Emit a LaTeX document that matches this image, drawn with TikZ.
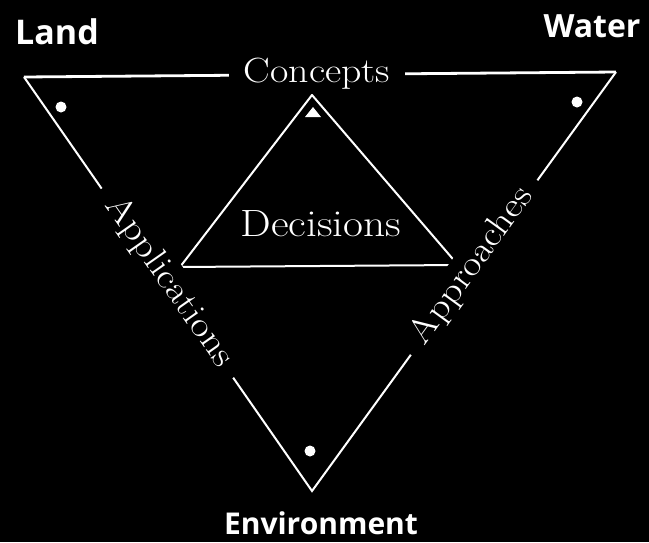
\documentclass[tikz,border=0pt]{standalone}
\usepackage{fontspec}
\newfontfamily\cornerfont{Open Sans}
\newfontfamily\sidefont{Latin Modern Roman}[FakeStretch=1.14]
\usetikzlibrary{positioning}

\begin{document}
\begin{tikzpicture}[x=1pt, y=-1pt, white, line width=2pt,
    corner/.style={font=\cornerfont\bfseries\fontsize{32}{36}\selectfont},
    side/.style={fill=black, inner xsep=15pt, inner ysep=4pt,
      font=\sidefont\fontsize{35}{40}\selectfont},
    spot/.style={circle, fill=white, inner sep=0pt, minimum size=11pt}]

% Fondo
\fill[black] (0,0) rectangle (649,542);

% Triangulo exterior
\coordinate (tl) at (24,77);
\coordinate (tr) at (616,72);
\coordinate (bt) at (312,491);
\draw[line width=2.8pt] (tl) -- (tr);
\draw[line join=miter] (tr) -- (bt) -- (tl);

% Triangulo interior
\coordinate (apex) at (312,95);
\coordinate (bl) at (180,267);
\coordinate (br) at (458,265);
\draw (apex) -- (br) -- (bl) -- cycle;
\fill (313,107) -- (305,117) -- (321,117) -- cycle;

% Puntos
\node[spot] (sl) at (61,107) {};
\node[spot] (sr) at (577,102) {};
\node[spot] (sb) at (310,451) {};

% Etiquetas
\node[side] (concepts) at (317,74) {Concepts};
\node[side, rotate=-55] (appl) at (169,282) {Applications};
\node[side, rotate=54] (appr) at (472,266) {Approaches};
\node[font=\sidefont\fontsize{38}{42}\selectfont] (dec) at (321,224) {Decisions};

\node[corner, font=\cornerfont\bfseries\fontsize{34}{38}\selectfont] (land) at (57,32) {Land};
\node[corner] (water) at (592,26) {Water};
\node[corner, font=\cornerfont\bfseries\fontsize{30}{34}\selectfont, inner sep=1pt] (env) at (321,523) {Environment};

\end{tikzpicture}
\end{document}
